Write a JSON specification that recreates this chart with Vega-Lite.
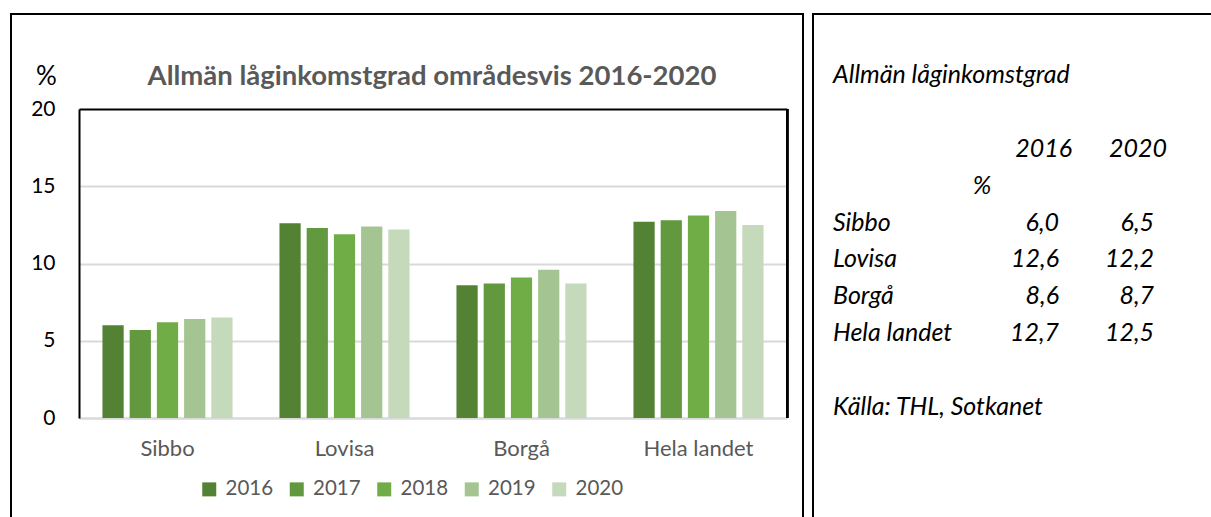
{
  "$schema": "https://vega.github.io/schema/vega-lite/v6.json",
  "padding": {"left": 10, "top": 13, "right": 0, "bottom": 0},
  "autosize": {"type": "pad"},
  "background": "white",
  "spacing": 8,
  "config": {
    "font": "Lato",
    "locale": {"number": {"decimal": ",", "thousands": " ", "grouping": [3], "currency": ["", " €"]}},
    "view": {"stroke": "black", "strokeWidth": 2}
  },
  "datasets": {
    "bars": [
      {"region": "Sibbo", "year": "2016", "value": 6.0},
      {"region": "Sibbo", "year": "2017", "value": 5.7},
      {"region": "Sibbo", "year": "2018", "value": 6.2},
      {"region": "Sibbo", "year": "2019", "value": 6.4},
      {"region": "Sibbo", "year": "2020", "value": 6.5},
      {"region": "Lovisa", "year": "2016", "value": 12.6},
      {"region": "Lovisa", "year": "2017", "value": 12.3},
      {"region": "Lovisa", "year": "2018", "value": 11.9},
      {"region": "Lovisa", "year": "2019", "value": 12.4},
      {"region": "Lovisa", "year": "2020", "value": 12.2},
      {"region": "Borgå", "year": "2016", "value": 8.6},
      {"region": "Borgå", "year": "2017", "value": 8.7},
      {"region": "Borgå", "year": "2018", "value": 9.1},
      {"region": "Borgå", "year": "2019", "value": 9.6},
      {"region": "Borgå", "year": "2020", "value": 8.7},
      {"region": "Hela landet", "year": "2016", "value": 12.7},
      {"region": "Hela landet", "year": "2017", "value": 12.8},
      {"region": "Hela landet", "year": "2018", "value": 13.1},
      {"region": "Hela landet", "year": "2019", "value": 13.4},
      {"region": "Hela landet", "year": "2020", "value": 12.5}
    ],
    "notes": [
      {"row": "title", "col": "label", "text": "Allmän låginkomstgrad"},
      {"row": "header", "col": "2016", "text": "2016"},
      {"row": "header", "col": "2020", "text": "2020"},
      {"row": "pct", "col": "pct", "text": "%"},
      {"row": "source", "col": "label", "text": "Källa: THL, Sotkanet"}
    ]
  },
  "hconcat": [
    {
      "width": 792,
      "height": 506,
      "data": {"name": "bars"},
      "title": {
        "text": "Allmän låginkomstgrad områdesvis 2016-2020",
        "anchor": "middle",
        "offset": -76,
        "dx": 25,
        "fontSize": 27.5,
        "fontWeight": "bold",
        "color": "#595959",
        "font": "Lato"
      },
      "encoding": {
        "x": {
          "field": "region",
          "type": "nominal",
          "sort": ["Sibbo", "Lovisa", "Borgå", "Hela landet"],
          "scale": {"range": [68, 776], "paddingInner": 0.265, "paddingOuter": 0.1325},
          "axis": {
            "orient": "bottom",
            "offset": -102,
            "title": null,
            "labelAngle": 0,
            "labelFontSize": 22,
            "labelColor": "#595959",
            "labelPadding": 20,
            "ticks": false,
            "grid": false,
            "domainColor": "#d9d9d9",
            "domainWidth": 2
          }
        },
        "y": {
          "field": "value",
          "type": "quantitative",
          "scale": {"domain": [0, 20], "range": [404, 95], "nice": false},
          "axis": {
            "orient": "left",
            "offset": -68,
            "values": [0, 5, 10, 15, 20],
            "title": "%",
            "titleAngle": 0,
            "titleX": -33,
            "titleY": 62,
            "titleAlign": "center",
            "titleBaseline": "middle",
            "titleFontSize": 26,
            "titleFontWeight": "normal",
            "titleColor": "black",
            "labelFontSize": 21,
            "labelColor": "black",
            "labelPadding": 24,
            "ticks": false,
            "grid": true,
            "gridColor": {"condition": {"test": "datum.value === 20", "value": "black"}, "value": "#d9d9d9"},
            "gridWidth": 2,
            "domainColor": "black",
            "domainWidth": 2
          }
        }
      },
      "layer": [
        {
          "mark": {"type": "bar"},
          "encoding": {
            "xOffset": {
              "field": "year",
              "type": "nominal",
              "scale": {"paddingInner": 0.22, "paddingOuter": 0}
            },
            "color": {
              "field": "year",
              "type": "nominal",
              "scale": {
                "domain": ["2016", "2017", "2018", "2019", "2020"],
                "range": ["#548235", "#62993e", "#70ad47", "#a4c592", "#c5d9bb"]
              },
              "legend": {
                "orient": "none",
                "legendX": 188,
                "legendY": 465,
                "direction": "horizontal",
                "title": null,
                "symbolType": "square",
                "symbolSize": 196,
                "symbolStrokeWidth": 0,
                "labelFontSize": 20.5,
                "labelColor": "#595959",
                "labelOffset": 6,
                "columnPadding": 12.5,
                "padding": 0
              }
            }
          }
        },
        {
          "mark": {"type": "rule", "color": "black", "strokeWidth": 2},
          "encoding": {
            "x": {"datum": "Hela landet", "type": "nominal", "bandPosition": 1.181},
            "y": {"datum": 0, "type": "quantitative"},
            "y2": {"datum": 20}
          }
        }
      ]
    },
    {
      "width": 400,
      "height": 506,
      "layer": [
        {
          "data": {"name": "notes"},
          "transform": [{"filter": "datum.col === 'label'"}],
          "mark": {"type": "text", "align": "left", "baseline": "middle", "dx": -36, "fontSize": 25, "fontStyle": "italic", "color": "black"},
          "encoding": {
            "x": {"field": "col", "type": "nominal"},
            "y": {"field": "row", "type": "nominal"},
            "text": {"field": "text"}
          }
        },
        {
          "data": {"name": "notes"},
          "transform": [{"filter": "datum.row === 'header'"}],
          "mark": {"type": "text", "align": "right", "baseline": "middle", "dx": 13, "fontSize": 25, "fontStyle": "italic", "color": "black"},
          "encoding": {
            "x": {"field": "col", "type": "nominal"},
            "y": {"field": "row", "type": "nominal"},
            "text": {"field": "text"}
          }
        },
        {
          "data": {"name": "notes"},
          "transform": [{"filter": "datum.row === 'pct'"}],
          "mark": {"type": "text", "align": "center", "baseline": "middle", "dx": 18, "fontSize": 25, "fontStyle": "italic", "color": "black"},
          "encoding": {
            "x": {"field": "col", "type": "nominal"},
            "y": {"field": "row", "type": "nominal"},
            "text": {"field": "text"}
          }
        },
        {
          "data": {"name": "bars"},
          "transform": [{"filter": "datum.year === '2016'"}],
          "mark": {"type": "text", "align": "left", "baseline": "middle", "dx": -36, "fontSize": 25, "fontStyle": "italic", "color": "black"},
          "encoding": {
            "x": {"datum": "label", "type": "nominal"},
            "y": {"field": "region", "type": "nominal"},
            "text": {"field": "region"}
          }
        },
        {
          "data": {"name": "bars"},
          "transform": [{"filter": "datum.year === '2016' || datum.year === '2020'"}],
          "mark": {"type": "text", "align": "right", "baseline": "middle", "fontSize": 25, "fontStyle": "italic", "color": "black"},
          "encoding": {
            "x": {"field": "year", "type": "nominal"},
            "y": {"field": "region", "type": "nominal"},
            "text": {"field": "value", "type": "quantitative", "format": ".1f"}
          }
        }
      ],
      "encoding": {
        "x": {
          "scale": {"type": "point", "domain": ["label", "pct", "2016", "2020"], "range": [56, 341], "padding": 0},
          "axis": null
        },
        "y": {
          "scale": {"type": "point", "domain": ["title", "gap1", "header", "pct", "Sibbo", "Lovisa", "Borgå", "Hela landet", "gap2", "source"], "range": [61, 393], "padding": 0},
          "axis": null
        }
      }
    }
  ]
}
